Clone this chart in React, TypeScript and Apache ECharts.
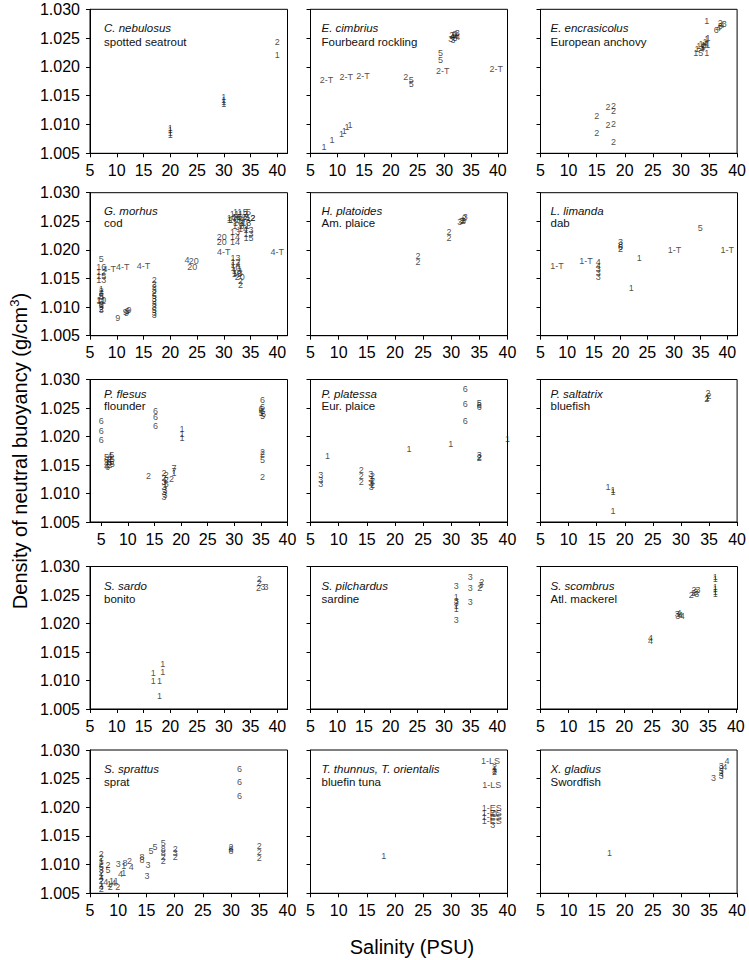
import React, { useEffect, useRef } from 'react';
import * as echarts from 'echarts';

type Pt = [number, number, string];

const FONT = "'Liberation Sans', Arial, Helvetica, sans-serif";

const xTicks = [5, 10, 15, 20, 25, 30, 35, 40];
const yTicks = [1.005, 1.01, 1.015, 1.02, 1.025, 1.03];

const speciesNames = [
  'C. nebulosus', 'E. cimbrius', 'E. encrasicolus',
  'G. morhus', 'H. platoides', 'L. limanda',
  'P. flesus', 'P. platessa', 'P. saltatrix',
  'S. sardo', 'S. pilchardus', 'S. scombrus',
  'S. sprattus', 'T. thunnus, T. orientalis', 'X. gladius',
];
const commonNames = [
  'spotted seatrout', 'Fourbeard rockling', 'European anchovy',
  'cod', 'Am. plaice', 'dab',
  'flounder', 'Eur. plaice', 'bluefish',
  'bonito', 'sardine', 'Atl. mackerel',
  'sprat', 'bluefin tuna', 'Swordfish',
];

// [salinity, density, label]
const nebulosus: Pt[] = [
  [40, 1.0243, '2'], [40, 1.0221, '1'],
  [30, 1.0147, '1'], [30, 1.0143, '1'], [30, 1.0139, '1'], [30, 1.0135, '1'],
  [20, 1.0094, '1'], [20, 1.009, '1'], [20, 1.0086, '1'], [20, 1.0082, '1'],
];
const cimbrius: Pt[] = [
  [7.5, 1.0061, '1'], [9.0, 1.0073, '1'], [10.8, 1.0083, '1'], [11.3, 1.0089, '1'], [11.8, 1.0095, '1'], [12.4, 1.0099, '1'],
  [8.0, 1.0177, '2-T'], [11.7, 1.0183, '2-T'], [14.8, 1.0184, '2-T'], [22.8, 1.0182, '2'], [23.8, 1.0178, '5'], [23.8, 1.017, '5'],
  [29.3, 1.0224, '5'], [29.3, 1.0212, '5'], [29.7, 1.0193, '2-T'], [39.7, 1.0196, '2-T'],
  [31.2, 1.0249, '3'], [31.5, 1.0252, '4'], [31.8, 1.0255, '5'], [32.0, 1.0257, '3'], [32.2, 1.0254, '4'],
  [32.4, 1.0258, '3'], [31.6, 1.0247, '3'], [32.0, 1.025, '5'], [32.5, 1.0252, '4'], [31.4, 1.0256, '2'],
];
const encrasicolus: Pt[] = [
  [34.6, 1.028, '1'], [34.6, 1.0224, '1'], [33.1, 1.0225, '15'], [33.3, 1.0231, '14'], [33.6, 1.0236, '10'],
  [34.0, 1.024, '14'], [34.3, 1.0244, '1'], [34.6, 1.0248, '1'], [34.8, 1.0251, '1'], [33.9, 1.0234, '1'], [34.4, 1.0238, '11'],
  [36.3, 1.0264, '6'], [36.7, 1.0268, '4'], [37.0, 1.0271, '3'], [37.3, 1.0273, '4'], [37.7, 1.0274, '3'], [37.0, 1.0276, '2'],
  [15, 1.0114, '2'], [15, 1.0085, '2'], [17, 1.013, '2'], [18, 1.0132, '2'], [18, 1.0123, '2'], [17, 1.0099, '2'], [18, 1.0101, '2'], [18, 1.007, '2'],
];
const morhus: Pt[] = [
  [7.1, 1.0184, '5'], [7.1, 1.017, '16'], [8.6, 1.0167, '4-T'], [7.1, 1.0162, '12'], [7.1, 1.0155, '15'], [7.1, 1.0148, '13'],
  [7.1, 1.0132, '1'], [7.1, 1.0128, '2'], [7.1, 1.0124, '3'], [7.1, 1.012, '5'], [7.1, 1.0117, '8'], [7.1, 1.0113, '10'],
  [7.1, 1.011, '11'], [7.1, 1.0106, '6'], [7.1, 1.0103, '7'], [7.1, 1.01, '9'], [7.1, 1.0097, '2'], [7.1, 1.0095, '3'],
  [11.1, 1.017, '4-T'], [15.0, 1.0172, '4-T'], [10.2, 1.0081, '9'], [11.6, 1.0091, '9'], [12.0, 1.0093, '9'], [12.3, 1.0095, '9'], [11.8, 1.0089, '9'],
  [17, 1.0147, '2'], [17, 1.0141, '2'], [17, 1.0135, '2'], [17, 1.013, '3'], [17, 1.0125, '2'], [17, 1.012, '5'], [17, 1.0115, '3'],
  [17, 1.011, '2'], [17, 1.0105, '3'], [17, 1.01, '3'], [17, 1.0095, '5'], [17, 1.009, '3'], [17, 1.0086, '3'],
  [23.1, 1.0182, '4'], [24.4, 1.0181, '20'], [24.1, 1.017, '20'], [29.6, 1.0223, '20'], [29.6, 1.0213, '20'],
  [30.0, 1.0196, '4-T'], [40.0, 1.0196, '4-T'],
  [32.1, 1.0223, '14'], [32.1, 1.0214, '14'], [34.6, 1.022, '15'], [34.6, 1.0228, '13'], [34.6, 1.0234, '13'], [33.6, 1.0236, '14'], [32.1, 1.0232, '13'],
  [32.2, 1.0185, '13'], [32.2, 1.0179, '12'], [32.2, 1.0173, '14'], [32.2, 1.0168, '10'], [32.4, 1.0163, '13'], [32.4, 1.0157, '15'],
  [33.0, 1.0153, '20'], [33.1, 1.0146, '2'], [33.1, 1.0138, '2'], [32.6, 1.0159, '13'],
  [32.2, 1.0266, '1'], [33.0, 1.0266, '1'], [34.0, 1.0267, '5'], [34.6, 1.0267, '5'], [31.5, 1.0256, '10'], [32.4, 1.0257, '16'],
  [33.3, 1.0257, '12'], [34.2, 1.0258, '2'], [35.0, 1.0256, '12'], [35.4, 1.0256, '2'], [31.0, 1.0252, '1'], [31.8, 1.0253, '10'],
  [32.7, 1.0253, '3'], [33.5, 1.0252, '9'], [34.5, 1.0252, '3'], [32.2, 1.0247, '1'], [33.2, 1.0247, '3'], [34.2, 1.0247, '13'],
  [32.5, 1.0242, '13'], [33.4, 1.0241, '3'], [34.4, 1.0242, '1'], [32.0, 1.0262, '11'], [33.6, 1.0262, '12'],
];
const platoides: Pt[] = [
  [24.1, 1.019, '2'], [24.1, 1.0179, '2'], [29.6, 1.0232, '2'], [29.6, 1.022, '2'],
  [31.5, 1.0248, '3'], [31.8, 1.0251, '3'], [32.1, 1.0253, '1'], [32.3, 1.0255, '2'], [32.5, 1.0257, '3'], [32.2, 1.025, '3'],
];
const limanda: Pt[] = [
  [8.1, 1.0171, '1-T'], [13.5, 1.0181, '1-T'], [30.1, 1.02, '1-T'], [40.0, 1.02, '1-T'], [34.9, 1.0239, '5'],
  [23.5, 1.0185, '1'], [22.0, 1.0134, '1'],
  [20.0, 1.0214, '3'], [20.0, 1.0209, '8'], [20.0, 1.0205, '6'], [20.0, 1.0201, '2'],
  [15.8, 1.0178, '4'], [15.8, 1.0172, '4'], [15.8, 1.0166, '3'], [15.8, 1.0159, '3'], [15.8, 1.0152, '3'],
];
const flesus: Pt[] = [
  [5.0, 1.0228, '6'], [5.0, 1.021, '6'], [5.0, 1.0194, '6'],
  [6.0, 1.0164, '5'], [6.6, 1.0166, '4'], [7.0, 1.0168, '5'], [6.0, 1.0159, '6'], [6.6, 1.016, '2'], [7.1, 1.0161, '5'],
  [6.0, 1.0154, '4'], [6.5, 1.0155, '6'], [7.0, 1.0155, '5'], [6.0, 1.0149, '4'], [6.6, 1.015, '2'], [7.1, 1.0151, '5'], [6.2, 1.0146, '6'],
  [15.2, 1.0244, '6'], [15.2, 1.0234, '6'], [15.2, 1.0218, '6'], [20.2, 1.0213, '1'], [20.2, 1.0205, '1'], [20.2, 1.0198, '1'],
  [13.9, 1.013, '2'],
  [16.8, 1.0136, '2'], [17.2, 1.0132, '2'], [16.8, 1.0128, '2'], [17.2, 1.0124, '2'], [16.8, 1.012, '3'], [17.2, 1.0117, '5'],
  [16.8, 1.0112, '3'], [17.0, 1.0107, '3'], [16.8, 1.0102, '3'], [17.0, 1.0097, '3'], [16.8, 1.0094, '3'],
  [18.2, 1.0125, '2'], [18.7, 1.0144, '7'], [18.7, 1.014, '7'], [18.7, 1.0136, '1'],
  [35.3, 1.0264, '6'], [35.3, 1.0252, '6'], [35.0, 1.0248, '6'], [35.3, 1.0245, '6'], [35.0, 1.0242, '5'], [35.5, 1.024, '6'], [35.3, 1.0236, '5'],
  [35.3, 1.0173, '2'], [35.3, 1.0169, '2'], [35.3, 1.0158, '5'], [35.3, 1.0129, '2'],
];
const platessa: Pt[] = [
  [32.5, 1.0283, '6'], [32.5, 1.0257, '6'], [32.5, 1.0227, '6'], [35.0, 1.0259, '5'], [35.0, 1.0255, '6'], [35.0, 1.0252, '6'],
  [8.0, 1.0166, '1'], [22.5, 1.0178, '1'], [29.9, 1.0187, '1'], [40.0, 1.0195, '1'],
  [35.0, 1.0167, '3'], [35.0, 1.0164, '2'], [35.0, 1.0162, '2'],
  [6.8, 1.0132, '3'], [6.8, 1.0124, '3'], [6.8, 1.0116, '3'], [14.0, 1.0142, '2'], [14.0, 1.0131, '2'], [14.0, 1.012, '2'],
  [15.7, 1.0135, '3'], [16.0, 1.013, '2'], [15.7, 1.0126, '3'], [16.0, 1.0122, '2'], [15.7, 1.0118, '3'], [16.0, 1.0115, '2'], [15.8, 1.0112, '3'],
];
const saltatrix: Pt[] = [
  [17.0, 1.0112, '1'], [17.9, 1.0106, '1'], [17.9, 1.0103, '1'], [17.9, 1.007, '1'],
  [34.8, 1.0276, '2'], [35.0, 1.0271, '2'], [34.7, 1.0268, '1'], [34.6, 1.0265, '2'],
];
const sardo: Pt[] = [
  [16.8, 1.0113, '1'], [16.8, 1.01, '1'], [18.0, 1.01, '1'], [18.6, 1.0115, '1'], [18.6, 1.0129, '1'], [18.0, 1.0072, '1'],
  [36.6, 1.0278, '2'], [36.6, 1.0271, '2'], [36.5, 1.0263, '2'], [37.3, 1.0264, '3'], [37.9, 1.0264, '3'],
];
const pilchardus: Pt[] = [
  [32.3, 1.0266, '3'], [34.9, 1.0282, '3'], [34.9, 1.0262, '3'], [34.9, 1.0237, '3'], [37.1, 1.0273, '2'], [36.9, 1.0268, '3'],
  [36.7, 1.0263, '2'], [32.3, 1.0246, '1'], [32.3, 1.024, '3'], [32.3, 1.0236, '3'], [32.3, 1.0231, '1'], [32.3, 1.0226, '1'],
  [32.3, 1.0206, '3'],
];
const scombrus: Pt[] = [
  [24.7, 1.0174, '4'], [24.7, 1.017, '4'], [29.5, 1.0217, '3'], [29.8, 1.0219, '4'], [30.1, 1.0215, '4'], [30.4, 1.0213, '4'], [29.6, 1.0213, '3'],
  [32.0, 1.025, '2'], [32.4, 1.0253, '2'], [32.8, 1.0256, '2'], [33.2, 1.0258, '3'], [33.0, 1.0252, '3'], [32.5, 1.0258, '2'],
  [36.3, 1.0282, '1'], [36.3, 1.0278, '1'], [36.3, 1.0264, '1'], [36.3, 1.026, '1'], [36.3, 1.0255, '1'], [36.3, 1.0251, '1'],
];
const sprattus: Pt[] = [
  [31.5, 1.0266, '6'], [31.5, 1.0245, '6'], [31.5, 1.022, '6'],
  [7.0, 1.0119, '2'], [7.0, 1.0112, '2'], [7.0, 1.0106, '1'], [7.0, 1.0101, '2'], [7.0, 1.0096, '5'], [7.0, 1.0091, '3'],
  [7.0, 1.0086, '2'], [7.0, 1.0081, '1'], [7.0, 1.0076, '4'], [7.0, 1.0071, '2'], [7.0, 1.0066, '1'], [7.0, 1.0061, '4'], [7.0, 1.0057, '2'],
  [8.2, 1.01, '2'], [8.2, 1.009, '5'], [7.8, 1.007, '4'], [8.4, 1.0066, '1'], [8.8, 1.0072, '1'], [8.6, 1.0061, '2'], [9.9, 1.0061, '2'],
  [9.2, 1.0068, '4'], [9.6, 1.0072, '1'], [10.0, 1.0101, '3'], [11.2, 1.0103, '8'], [12.0, 1.0106, '2'], [12.3, 1.0096, '4'],
  [11.0, 1.0097, '1'], [10.4, 1.0083, '4'], [11.0, 1.0085, '1'],
  [14.2, 1.0114, '8'], [14.2, 1.0108, '8'], [15.3, 1.01, '3'], [15.1, 1.008, '3'], [15.8, 1.0123, '5'], [16.5, 1.0131, '5'],
  [18.0, 1.0137, '5'], [18.0, 1.0127, '8'], [18.0, 1.012, '8'], [18.0, 1.0113, '2'], [18.0, 1.0107, '2'],
  [20.1, 1.0128, '2'], [20.1, 1.0121, '3'], [20.1, 1.0113, '2'],
  [30.0, 1.0131, '2'], [30.0, 1.0127, '8'], [30.0, 1.0123, '8'], [35.0, 1.0132, '2'], [35.0, 1.0122, '2'], [35.0, 1.0111, '2'],
];
const thunnus: Pt[] = [
  [37.0, 1.028, '1-LS'], [37.7, 1.027, '2'], [37.7, 1.0267, '1'], [37.7, 1.0264, '3'], [37.7, 1.0261, '2'],
  [37.2, 1.0239, '1-LS'], [37.2, 1.0198, '1-ES'], [37.2, 1.019, '1-ES'], [37.7, 1.0189, '0'], [37.2, 1.0183, '1-ES'],
  [37.2, 1.0176, '1-ES'], [37.4, 1.017, '3'], [18.0, 1.0115, '1'],
];
const gladius: Pt[] = [
  [38.2, 1.0281, '4'], [35.8, 1.0251, '3'], [37.2, 1.0272, '3'], [37.2, 1.0268, '2'], [37.2, 1.0264, '3'],
  [37.2, 1.0259, '4'], [37.2, 1.0254, '3'], [37.8, 1.027, '4'], [17.3, 1.012, '1'],
];

const panelData: Pt[][] = [
  nebulosus, cimbrius, encrasicolus,
  morhus, platoides, limanda,
  flesus, platessa, saltatrix,
  sardo, pilchardus, scombrus,
  sprattus, thunnus, gladius,
];

// x-axis extents of each panel
const xMin = [5, 5, 5, 5, 5, 5, 2.9, 5, 5, 5, 5, 5, 5, 5, 5];
const xMax = [41.9, 41.8, 40, 41.9, 40, 41.9, 40, 40, 40, 41.9, 41.9, 40.3, 40, 40, 40];

// layout (pixels)
const gridLeft = [90, 310.5, 540.5];
const gridWidth = [197.5, 197, 197];
const gridTop = [9.3, 192.7, 379.5, 566.5, 750];
const gridHeight = [144, 143, 142.5, 142.5, 143.3];
const textDx = [14, 11, 10];
const nameDy = [19, 18, 14, 19.5, 19.3];
const commonDy = [32.4, 30.6, 26.3, 32, 32.3];

function buildOption(): echarts.EChartsOption {
  const grids: any[] = [];
  const xAxes: any[] = [];
  const yAxes: any[] = [];
  const series: any[] = [];
  const graphics: any[] = [];

  panelData.forEach((pts, i) => {
    const row = Math.floor(i / 3);
    const col = i % 3;
    grids.push({
      left: gridLeft[col],
      top: gridTop[row],
      width: gridWidth[col],
      height: gridHeight[row],
      show: true,
      borderColor: '#000',
      borderWidth: 1,
      backgroundColor: 'transparent',
    });
    xAxes.push({
      gridIndex: i,
      type: 'value',
      min: xMin[i],
      max: xMax[i],
      axisLine: { show: true, onZero: false, lineStyle: { color: '#000', width: 1 } },
      axisTick: { show: true, length: 4, customValues: xTicks, lineStyle: { color: '#000' } },
      axisLabel: {
        show: true,
        customValues: xTicks,
        fontSize: 16,
        color: '#000',
        fontFamily: FONT,
        margin: 9,
      },
      splitLine: { show: false },
    });
    yAxes.push({
      gridIndex: i,
      type: 'value',
      min: 1.005,
      max: 1.03,
      axisLine: { show: true, onZero: false, lineStyle: { color: '#000', width: 1 } },
      axisTick: { show: true, length: 4, customValues: yTicks, lineStyle: { color: '#000' } },
      axisLabel: {
        show: col === 0,
        customValues: yTicks,
        formatter: (v: number) => v.toFixed(3),
        fontSize: 16,
        color: '#000',
        fontFamily: FONT,
        margin: 10,
      },
      splitLine: { show: false },
    });
    series.push({
      type: 'scatter',
      xAxisIndex: i,
      yAxisIndex: i,
      data: pts.map((p) => ({ value: [p[0], p[1]], name: p[2] })),
      symbol: 'circle',
      symbolSize: 1,
      itemStyle: { color: 'rgba(0,0,0,0)' },
      label: {
        show: true,
        position: 'inside',
        formatter: (p: any) => p.name,
        fontSize: 9,
        color: '#1a1a1a',
        fontFamily: FONT,
        textBorderWidth: 0,
        textBorderColor: 'transparent',
      },
      emphasis: { disabled: true },
      silent: true,
      clip: false,
    });
    graphics.push({
      type: 'text',
      x: gridLeft[col] + textDx[col],
      y: gridTop[row] + nameDy[row],
      silent: true,
      style: {
        text: speciesNames[i],
        fontSize: 11.5,
        fontStyle: 'italic',
        fontFamily: FONT,
        fill: '#111',
        verticalAlign: 'middle',
        align: 'left',
      },
    });
    graphics.push({
      type: 'text',
      x: gridLeft[col] + textDx[col],
      y: gridTop[row] + commonDy[row],
      silent: true,
      style: {
        text: commonNames[i],
        fontSize: 11.5,
        fontFamily: FONT,
        fill: '#111',
        verticalAlign: 'middle',
        align: 'left',
      },
    });
  });

  graphics.push({
    type: 'text',
    x: 20,
    y: 451,
    rotation: Math.PI / 2,
    silent: true,
    style: {
      text: '{a|Density of neutral buoyancy (g/cm}{s|3}{a|)}',
      align: 'center',
      verticalAlign: 'middle',
      fill: '#000',
      rich: {
        a: { fontSize: 20, fontFamily: FONT, lineHeight: 24, fill: '#000' },
        s: { fontSize: 13, fontFamily: FONT, lineHeight: 14, verticalAlign: 'top', fill: '#000' },
      },
    },
  });
  graphics.push({
    type: 'text',
    x: 412,
    y: 947,
    silent: true,
    style: {
      text: 'Salinity (PSU)',
      fontSize: 20,
      fontFamily: FONT,
      fill: '#000',
      align: 'center',
      verticalAlign: 'middle',
    },
  });

  return {
    animation: false,
    backgroundColor: '#fff',
    grid: grids,
    xAxis: xAxes,
    yAxis: yAxes,
    series,
    graphic: graphics,
  } as any;
}

export default function App() {
  const ref = useRef<HTMLDivElement>(null);
  useEffect(() => {
    if (!ref.current) return;
    const chart = echarts.init(ref.current, null, { renderer: 'svg' });
    chart.setOption(buildOption());
    return () => {
      chart.dispose();
    };
  }, []);
  return (
    <div
      ref={ref}
      style={{ position: 'absolute', left: 0, top: 0, width: 749, height: 960, background: '#fff' }}
    />
  );
}
